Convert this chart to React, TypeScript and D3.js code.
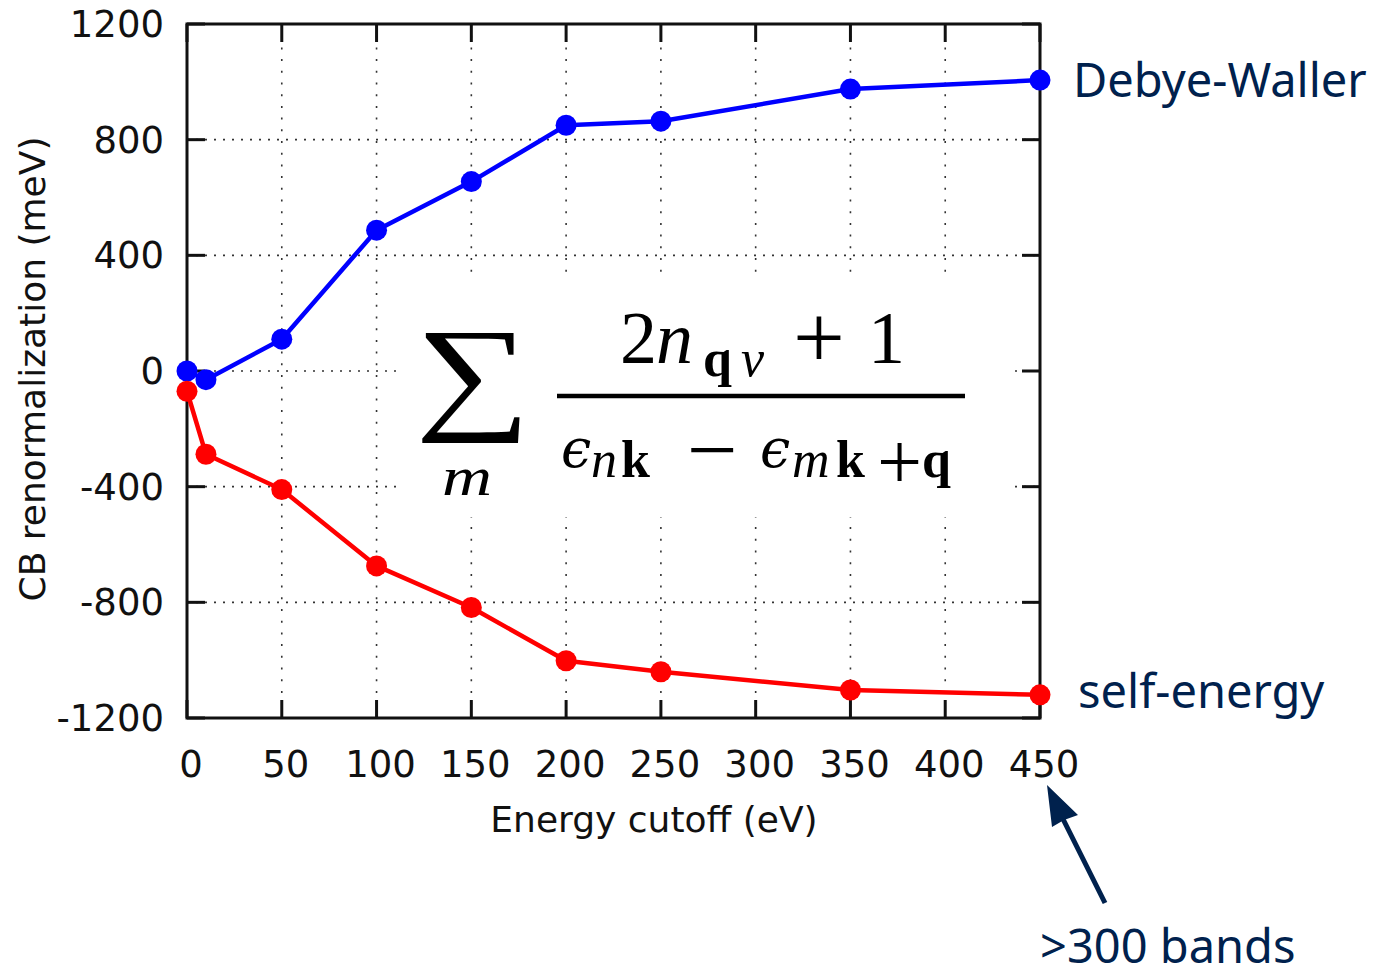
import React from 'react';
import * as d3 from 'd3';

const cutoffs = [0, 10, 50, 100, 150, 200, 250, 350, 450];
const debyeWaller = [0, -30, 110, 487, 655, 850, 864, 975, 1006];
const selfEnergy = [-70, -288, -410, -674, -818, -1002, -1040, -1103, -1120];
const xTicks = [0, 50, 100, 150, 200, 250, 300, 350, 400, 450];
const yTicks = [-1200, -800, -400, 0, 400, 800, 1200];
const xTitle = 'Energy cutoff (eV)';
const yTitle = 'CB renormalization (meV)';
const seriesLabels = ['Debye-Waller', 'self-energy'];
const note = '>300 bands';

const W = 1379, H = 973;
const M = { left: 187, right: 1040, top: 24, bottom: 718 };
const navy = '#00214d';
const serif = "'Liberation Serif', 'DejaVu Serif', serif";
const sans = "'DejaVu Sans', sans-serif";
const label = "'Noto Sans', 'Open Sans', sans-serif";

export default function App() {
  const x = d3.scaleLinear().domain([0, 450]).range([M.left, M.right]);
  const y = d3.scaleLinear().domain([-1200, 1200]).range([M.bottom, M.top]);
  const mk = (vals: number[]) =>
    d3.line<number>().x((_, i) => x(cutoffs[i])).y((v) => y(v))(vals) || '';
  const series = [
    { vals: debyeWaller, color: '#0000ff' },
    { vals: selfEnergy, color: '#ff0000' },
  ];
  const tickLen = 18;
  const lastX = x(cutoffs[cutoffs.length - 1]);
  return (
    <svg width={W} height={H} style={{ position: 'absolute', left: 0, top: 0, background: '#fff' }}>
      {/* grid */}
      <g stroke="#333" strokeWidth={1.6}>
        {yTicks.slice(1, -1).map((t) => (
          <line key={'gy' + t} x1={M.left} x2={M.right} y1={y(t)} y2={y(t)} strokeDasharray="2,7" />
        ))}
        {xTicks.slice(1, -1).map((t) => (
          <line key={'gx' + t} x1={x(t)} x2={x(t)} y1={M.top} y2={M.bottom} strokeDasharray="2,9.7" />
        ))}
      </g>
      {/* white box behind formula */}
      <rect x={402} y={277} width={608} height={240} fill="#fff" />
      {/* ticks */}
      <g stroke="#111" strokeWidth={3}>
        {xTicks.map((t) => (
          <g key={'tx' + t}>
            <line x1={x(t)} x2={x(t)} y1={M.bottom} y2={M.bottom - tickLen} />
            <line x1={x(t)} x2={x(t)} y1={M.top} y2={M.top + tickLen} />
          </g>
        ))}
        {yTicks.map((t) => (
          <g key={'ty' + t}>
            <line x1={M.left} x2={M.left + tickLen} y1={y(t)} y2={y(t)} />
            <line x1={M.right} x2={M.right - tickLen} y1={y(t)} y2={y(t)} />
          </g>
        ))}
      </g>
      {/* frame */}
      <rect x={M.left} y={M.top} width={M.right - M.left} height={M.bottom - M.top} fill="none" stroke="#111" strokeWidth={3} />
      {/* tick labels */}
      <g fontFamily={sans} fontSize={37} fill="#111">
        {xTicks.map((t) => (
          <text key={'lx' + t} x={x(t) + 4} y={777} textAnchor="middle">{t}</text>
        ))}
        {yTicks.map((t) => (
          <text key={'ly' + t} x={164} y={y(t) + 13} textAnchor="end">{t}</text>
        ))}
      </g>
      {/* axis titles */}
      <text x={654} y={832} textAnchor="middle" fontFamily={sans} fontSize={36} fill="#111">{xTitle}</text>
      <text transform="translate(45,369) rotate(-90)" textAnchor="middle" fontFamily={sans} fontSize={36} fill="#111">{yTitle}</text>
      {/* series */}
      {series.map((s, i) => (
        <g key={'s' + i}>
          <path d={mk(s.vals)} fill="none" stroke={s.color} strokeWidth={4.5} strokeLinejoin="round" />
          {s.vals.map((v, j) => (
            <circle key={j} cx={x(cutoffs[j])} cy={y(v)} r={10.5} fill={s.color} />
          ))}
        </g>
      ))}
      {/* formula */}
      <g fontFamily={serif} fill="#000">
        <text transform="translate(415,416) scale(1.28,1)" fontSize={127}>∑</text>
        <text x={467} y={495} fontSize={54} fontStyle="italic" textAnchor="middle" textLength={50} lengthAdjust="spacingAndGlyphs">m</text>
        <line x1={557} x2={965} y1={396} y2={396} stroke="#000" strokeWidth={4.5} />
        <text y={363} fontSize={74}>
          <tspan x={620}>2</tspan>
          <tspan x={656} fontStyle="italic">n</tspan>
        </text>
        <text y={376} fontSize={52}>
          <tspan x={703} fontWeight="bold">q</tspan>
          <tspan x={741} fontStyle="italic">ν</tspan>
        </text>
        <text x={793} y={368} fontSize={92}>+</text>
        <text x={868} y={363} fontSize={74}>1</text>
        <text y={467} fontSize={54} fontFamily="'DejaVu Serif', serif" fontStyle="italic">
          <tspan x={561}>ϵ</tspan>
          <tspan x={760}>ϵ</tspan>
        </text>
        <text y={477} fontSize={52}>
          <tspan x={591} fontStyle="italic">n</tspan>
          <tspan x={621} fontWeight="bold">k</tspan>
          <tspan x={792} fontStyle="italic">m</tspan>
          <tspan x={836} fontWeight="bold">k</tspan>
          <tspan x={922} fontWeight="bold">q</tspan>
        </text>
        <text x={877} y={489} fontSize={80}>+</text>
        <text x={687} y={480} fontSize={90}>−</text>
      </g>
      {/* series labels */}
      <g fontFamily={label} fontSize={47} fill={navy}>
        <text x={lastX + 33} y={y(debyeWaller[debyeWaller.length - 1]) + 17}>{seriesLabels[0]}</text>
        <text x={lastX + 38} y={y(selfEnergy[selfEnergy.length - 1]) + 13}>{seriesLabels[1]}</text>
        <text x={1040} y={963}>{note}</text>
      </g>
      {/* arrow */}
      <line x1={1105} y1={903} x2={1062} y2={817} stroke={navy} strokeWidth={5} />
      <path d="M1047,785 L1078,815 L1064,820 L1052,827 Z" fill={navy} />
    </svg>
  );
}
